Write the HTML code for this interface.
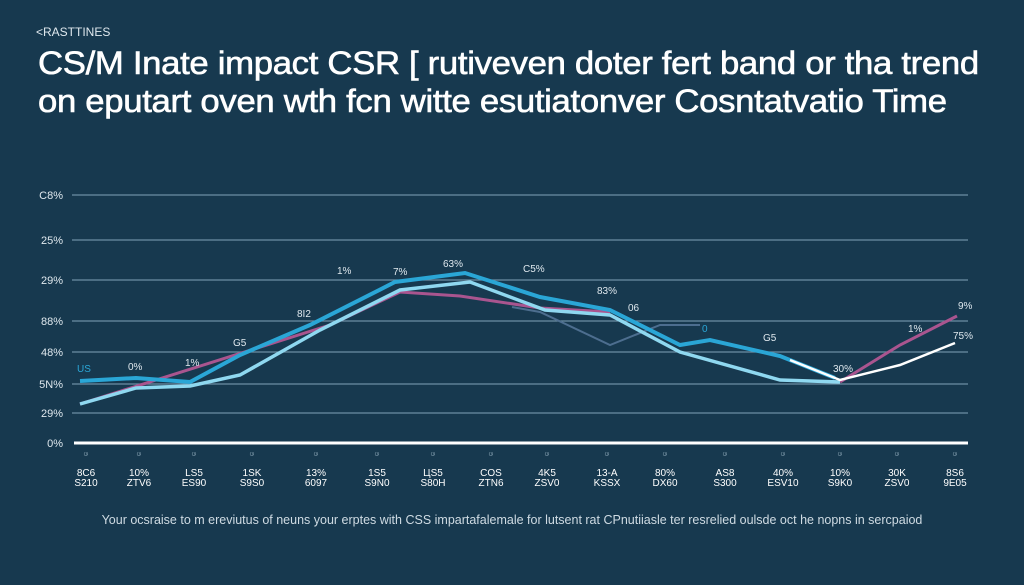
<!DOCTYPE html>
<html><head><meta charset="utf-8"><style>
body{margin:0;width:1024px;height:585px;background:#17394f;overflow:hidden;font-family:"Liberation Sans",sans-serif;color:#fff}
.t{position:absolute;left:38px;font-size:32px;white-space:nowrap;letter-spacing:-0.3px;transform-origin:0 0;transform:scaleX(1.085);-webkit-text-stroke:0.6px #fff}
</style></head><body>
<div style="position:absolute;left:36px;top:25px;font-size:12px;color:#dfe8ee">&lt;RASTTINES</div>
<div class="t" style="top:45px">CS/M Inate impact CSR [ rutiveven doter fert band or tha trend</div>
<div class="t" style="top:83px">on eputart oven wth fcn witte esutiatonver Cosntatvatio Time</div>
<svg width="1024" height="585" style="position:absolute;left:0;top:0" font-family="Liberation Sans" >
<g stroke="#6d8ea3" stroke-width="1.3">
<line x1="72" y1="195" x2="968" y2="195"/><line x1="72" y1="240" x2="968" y2="240"/>
<line x1="72" y1="280" x2="968" y2="280"/><line x1="72" y1="321" x2="968" y2="321"/>
<line x1="72" y1="352" x2="968" y2="352"/><line x1="72" y1="384" x2="968" y2="384"/>
<line x1="72" y1="413" x2="968" y2="413"/></g>
<line x1="74" y1="443" x2="968" y2="443" stroke="#fff" stroke-width="3"/>
<g fill="#dfe8ee" font-size="11" text-anchor="end">
<text x="63" y="199">C8%</text><text x="63" y="244">25%</text><text x="63" y="284">29%</text>
<text x="63" y="325">88%</text><text x="63" y="356">48%</text><text x="63" y="388">5N%</text>
<text x="63" y="417">29%</text><text x="63" y="447">0%</text></g>
<polyline fill="none" stroke="#4d6e8f" stroke-width="2" points="512,307 540,312 610,345 660,325 700,325"/>
<polyline fill="none" stroke="#a9558f" stroke-width="3" points="80,404 330,325 400,292 460,296 540,308 610,312"/>
<polyline fill="none" stroke="#a9558f" stroke-width="3" points="840,382 900,345 957,316"/>
<polyline fill="none" stroke="#2aa6d6" stroke-width="4" points="80,381 136,378 190,382 240,355 310,325 395,282 465,273 540,297 610,310 680,345 710,340 780,356 835,378"/>
<polyline fill="none" stroke="#8fd8f0" stroke-width="3.5" points="80,404 136,388 190,386 240,375 320,330 400,290 470,282 545,310 610,315 680,352 780,380 840,382"/>
<polyline fill="none" stroke="#fff" stroke-width="2.5" points="790,360 840,380 900,365 955,343"/>
<g fill="#dfe8ee" font-size="10">
<text x="77" y="372" fill="#2aa6d6">US</text><text x="128" y="370">0%</text><text x="185" y="366">1%</text>
<text x="233" y="346">G5</text><text x="297" y="317">8I2</text><text x="337" y="274">1%</text>
<text x="393" y="275">7%</text><text x="443" y="267">63%</text><text x="523" y="272">C5%</text>
<text x="597" y="294">83%</text><text x="628" y="311">06</text><text x="702" y="332" fill="#2aa6d6">0</text>
<text x="763" y="341">G5</text><text x="833" y="372">30%</text><text x="908" y="332">1%</text>
<text x="958" y="309">9%</text><text x="953" y="339">75%</text></g>
<g fill="#8ea8b8" font-size="9" text-anchor="middle">
<text x="86" y="456">ဖ</text><text x="139" y="456">ဖ</text><text x="194" y="456">ဖ</text><text x="252" y="456">ဖ</text><text x="316" y="456">ဖ</text><text x="377" y="456">ဖ</text><text x="433" y="456">ဖ</text><text x="491" y="456">ဖ</text><text x="547" y="456">ဖ</text><text x="607" y="456">ဖ</text><text x="665" y="456">ဖ</text><text x="725" y="456">ဖ</text><text x="783" y="456">ဖ</text><text x="840" y="456">ဖ</text><text x="897" y="456">ဖ</text><text x="955" y="456">ဖ</text></g>
<g fill="#fff" font-size="10" text-anchor="middle">
<text x="86" y="476">8C6</text><text x="139" y="476">10%</text><text x="194" y="476">LS5</text><text x="252" y="476">1SK</text><text x="316" y="476">13%</text><text x="377" y="476">1S5</text><text x="433" y="476">ЦS5</text><text x="491" y="476">COS</text><text x="547" y="476">4K5</text><text x="607" y="476">13-A</text><text x="665" y="476">80%</text><text x="725" y="476">AS8</text><text x="783" y="476">40%</text><text x="840" y="476">10%</text><text x="897" y="476">30K</text><text x="955" y="476">8S6</text>
<text x="86" y="486">S210</text><text x="139" y="486">ZTV6</text><text x="194" y="486">ES90</text><text x="252" y="486">S9S0</text><text x="316" y="486">6097</text><text x="377" y="486">S9N0</text><text x="433" y="486">S80H</text><text x="491" y="486">ZTN6</text><text x="547" y="486">ZSV0</text><text x="607" y="486">KSSX</text><text x="665" y="486">DX60</text><text x="725" y="486">S300</text><text x="783" y="486">ESV10</text><text x="840" y="486">S9K0</text><text x="897" y="486">ZSV0</text><text x="955" y="486">9E05</text></g>
<text x="512" y="524" fill="#cfdbe3" font-size="12.5" text-anchor="middle">Your ocsraise to m ereviutus of neuns your erptes with CSS impartafalemale for lutsent rat CPnutiiasle ter resrelied oulsde oct he nopns in sercpaiod</text>
</svg>
</body></html>
